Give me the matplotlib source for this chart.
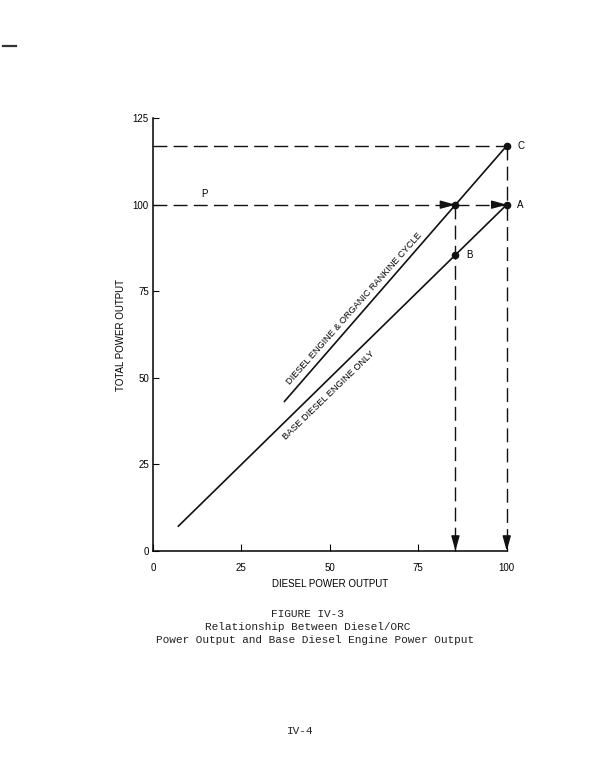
import matplotlib.pyplot as plt
from matplotlib.lines import Line2D

# lines of the figure (diesel power output -> total power output)
base_x = [7, 100]
base_y = [7, 100]
orc_x = [37, 100]
orc_y = [43, 117]

# marked points
point_names = ["C", "A", "B"]
point_x = [100, 100, 85.5]
point_y = [117, 100, 85.5]
cross_x = 85.5  # where the ORC line reaches 100
cross_y = 100
p_level = 100
c_level = 117

x_ticks = [0, 25, 50, 75, 100]
y_ticks = [0, 25, 50, 75, 100, 125]

sans = "Liberation Sans"
mono = "Liberation Mono"
ink = "#111111"

fig = plt.figure(figsize=(6.12, 7.8), dpi=100)
ax = fig.add_axes([0.25, 0.2936, 0.578, 0.555])

# solid curves
ax.plot(base_x, base_y, color=ink, lw=1.2, solid_capstyle="butt", clip_on=False)
ax.plot(orc_x, orc_y, color=ink, lw=1.2, solid_capstyle="butt", clip_on=False)

dash = dict(color=ink, lw=1.0, dashes=(10, 4.5), clip_on=False)
# horizontal dashed guides
ax.plot([0, point_x[0]], [c_level, c_level], **dash)
ax.plot([0, point_x[1]], [p_level, p_level], **dash)
# vertical dashed guides
ax.plot([cross_x, cross_x], [cross_y, 0], **dash)
ax.plot([point_x[0], point_x[0]], [point_y[0], 0], **dash)

arrow = dict(arrowstyle="-|>,head_length=0.9,head_width=0.25", color=ink,
             lw=1.0, mutation_scale=10, shrinkA=0, shrinkB=0)
for tip, tail in [((cross_x, p_level), (cross_x - 4, p_level)),
                  ((point_x[1], p_level), (point_x[1] - 4, p_level)),
                  ((cross_x, 0), (cross_x, 4)),
                  ((point_x[0], 0), (point_x[0], 4))]:
    a = ax.annotate("", xy=tip, xytext=tail, arrowprops=arrow, annotation_clip=False)
    a.arrow_patch.set_clip_on(False)

# dots
ax.plot(point_x, point_y, "o", color=ink, ms=4.5, zorder=5, clip_on=False)
ax.plot([cross_x], [cross_y], "o", color=ink, ms=4.5, zorder=5, clip_on=False)

for name, px, py in zip(point_names, point_x, point_y):
    ax.text(px + 3, py, name, fontsize=7, family=sans, va="center", ha="left")
ax.text(14.5, p_level + 1.5, "P", fontsize=7, family=sans, ha="center", va="bottom")

# labels along the lines
ax.annotate("DIESEL ENGINE & ORGANIC RANKINE CYCLE", xy=(40, 46.8), xytext=(-2, 2),
            textcoords="offset points", rotation=48.5, rotation_mode="anchor",
            ha="left", va="bottom", fontsize=6.6, family=sans)
ax.annotate("BASE DIESEL ENGINE ONLY", xy=(35, 35), xytext=(3, -4),
            textcoords="offset points", rotation=44, rotation_mode="anchor",
            ha="left", va="top", fontsize=6.6, family=sans)

ax.set_xlim(0, 100)
ax.set_ylim(0, 125)
ax.set_xticks(x_ticks)
ax.set_yticks(y_ticks)
ax.tick_params(axis="x", direction="in", length=5, width=0.8, pad=9, labelsize=7)
ax.tick_params(axis="y", direction="in", length=4, width=0.8, pad=3, labelsize=7)
for lab in ax.get_xticklabels() + ax.get_yticklabels():
    lab.set_family(sans)
for side in ["top", "right"]:
    ax.spines[side].set_visible(False)
for side in ["left", "bottom"]:
    ax.spines[side].set_linewidth(1.1)

ax.set_xlabel("DIESEL POWER OUTPUT", fontsize=7, family=sans, labelpad=4)
ax.set_ylabel("TOTAL POWER OUTPUT", fontsize=7, family=sans, labelpad=5)

# caption
fig.text(0.503, 1 - 614 / 780, "FIGURE IV-3", family=mono, fontsize=8,
         ha="center", va="center", color="#222222")
fig.text(0.503, 1 - 627 / 780, "Relationship Between Diesel/ORC", family=mono,
         fontsize=8, ha="center", va="center", color="#222222")
fig.text(0.514, 1 - 640 / 780, "Power Output and Base Diesel Engine Power Output",
         family=mono, fontsize=8, ha="center", va="center", color="#222222")
fig.text(0.49, 1 - 731 / 780, "IV-4", family=mono, fontsize=8,
         ha="center", va="center", color="#222222")

# stray page mark at the top left
fig.add_artist(Line2D([3 / 612, 16 / 612], [1 - 46 / 780, 1 - 46 / 780],
                      color="#333333", lw=1.6))

fig.savefig("out.png", dpi=100)
